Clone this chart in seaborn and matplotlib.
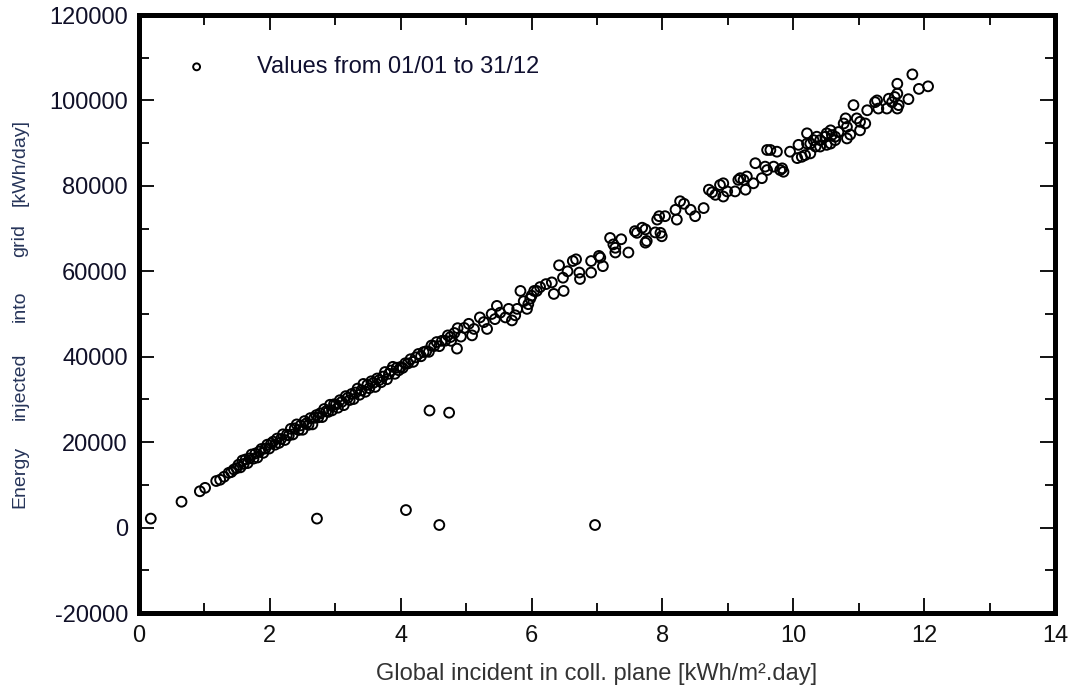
import matplotlib
matplotlib.use("Agg")
import matplotlib.pyplot as plt
import seaborn as sns
import pandas as pd
from matplotlib.ticker import MultipleLocator

# ---- data (kWh/m2.day , kWh/day) ----
irradiation = [
    # isolated low days
    0.18, 0.65, 2.72, 4.08, 4.59, 4.44, 4.74, 6.97,
    # 0.9 - 1.5
    0.93, 1.01, 1.18, 1.24, 1.30, 1.37, 1.41, 1.45, 1.49,
    # 1.5 - 2
    1.52, 1.55, 1.58, 1.60, 1.63, 1.66, 1.69, 1.72, 1.75, 1.78, 1.81, 1.84,
    1.87, 1.90, 1.93, 1.96, 1.99,
    # 2 - 3
    2.02, 2.05, 2.08, 2.11, 2.14, 2.17, 2.20, 2.23, 2.26, 2.29, 2.32, 2.35,
    2.38, 2.41, 2.44, 2.47, 2.50, 2.53, 2.56, 2.59, 2.62, 2.65, 2.68, 2.71,
    2.74, 2.77, 2.80, 2.83, 2.86, 2.89, 2.92, 2.95, 2.98,
    # 3 - 4
    3.01, 3.04, 3.07, 3.10, 3.13, 3.16, 3.19, 3.22, 3.25, 3.28, 3.31, 3.34,
    3.37, 3.40, 3.43, 3.46, 3.49, 3.52, 3.55, 3.58, 3.61, 3.64, 3.67, 3.70,
    3.73, 3.76, 3.79, 3.82, 3.85, 3.88, 3.91, 3.94, 3.97,
    # 4 - 5
    4.00, 4.03, 4.07, 4.11, 4.15, 4.19, 4.23, 4.27, 4.31, 4.35, 4.39, 4.43,
    4.47, 4.51, 4.55, 4.59, 4.63, 4.68, 4.72, 4.77, 4.82, 4.87, 4.92, 4.97,
    4.76, 4.86,
    # 5 - 6
    5.04, 5.09, 5.12, 5.21, 5.27, 5.32, 5.39, 5.44, 5.47, 5.52, 5.60, 5.65,
    5.70, 5.75, 5.78, 5.83, 5.88, 5.93, 5.95, 5.98, 6.00, 6.04, 6.08,
    # 6 - 7.5
    6.13, 6.22, 6.31, 6.34, 6.42, 6.48, 6.49, 6.55, 6.63, 6.68, 6.73, 6.74,
    6.91, 6.91, 7.03, 7.05, 7.09, 7.20, 7.25, 7.28, 7.28, 7.37, 7.48,
    # 7.5 - 9.6
    7.58, 7.61, 7.69, 7.74, 7.74, 7.76, 7.89, 7.92, 7.95, 7.97, 7.99, 8.04,
    8.20, 8.22, 8.27, 8.33, 8.43, 8.50, 8.63, 8.71, 8.76, 8.81, 8.88, 8.93,
    8.93, 8.99, 9.11, 9.16, 9.19, 9.24, 9.27, 9.29, 9.39, 9.42, 9.52, 9.57,
    # 9.6 - 12.1
    9.60, 9.60, 9.65, 9.70, 9.75, 9.80, 9.83, 9.85, 9.95, 10.06, 10.08, 10.13,
    10.18, 10.21, 10.21, 10.26, 10.26, 10.31, 10.34, 10.36, 10.41, 10.41,
    10.49, 10.51, 10.51, 10.57, 10.57, 10.59, 10.64, 10.64, 10.69, 10.77,
    10.80, 10.82, 10.82, 10.87, 10.92, 10.97, 11.02, 11.02, 11.10, 11.13,
    11.25, 11.28, 11.30, 11.43, 11.46, 11.51, 11.55, 11.59, 11.59, 11.59,
    11.61, 11.76, 11.82, 11.92, 12.06,
]

energy = [
    2100, 6050, 2100, 4100, 600, 27400, 26900, 600,
    8500, 9300, 10900, 11200, 11900, 12800, 13000, 13600, 13900,
    14700, 14100, 15700, 14900, 15950, 15100, 16200, 17100, 16150, 17350, 16400, 17800,
    18400, 17500, 18500, 19400, 18500,
    19690, 20120, 19400, 20830, 19820, 20750, 21830, 20510, 21740, 21580, 23110, 21790,
    23220, 24150, 22840, 23920, 22900, 24930, 24410, 24050, 25630, 24160, 25690, 26320,
    25810, 26740, 25870, 27750, 27230, 27070, 28750, 27430, 28860,
    28790, 28060, 29820, 29440, 28660, 30770, 30390, 29860, 31280, 30090, 31610, 32530,
    31090, 32110, 33630, 31790, 33410, 32630, 34250, 33860, 32930, 34900, 34510, 34030,
    35350, 36410, 34730, 36000, 36770, 37630, 36000, 37420, 36830,
    37600, 37380, 38460, 38430, 39410, 38790, 39860, 40640, 40110, 41090, 41270, 41140,
    42620, 42490, 43430, 42470, 43720, 43750, 44990, 43720, 45550, 46680, 44710, 46740,
    44600, 41900,
    47700, 45000, 46500, 49200, 48100, 46500, 50000, 48800, 51900, 50300, 49200, 51200,
    48500, 49700, 51200, 55400, 53000, 51200, 52300, 53600, 54300, 55400, 55400,
    56300, 57000, 57400, 54700, 61400, 58500, 55400, 60000, 62400, 62800, 59700, 58200,
    62400, 59700, 63600, 63200, 61200, 67800, 66300, 65500, 64400, 67500, 64400,
    69400, 69000, 70200, 69800, 66700, 67100, 69100, 72100, 72900, 69000, 68200, 72900,
    74400, 72100, 76400, 75800, 74400, 72900, 74800, 79100, 78500, 77900, 80200, 80600,
    77500, 78700, 78700, 81400, 81800, 81400, 79100, 82200, 80600, 85300, 81800, 84500,
    83700, 88400, 88400, 84500, 88000, 83700, 84100, 83300, 88000, 86500, 89600, 86800,
    87200, 89900, 92300, 87600, 89900, 90700, 89200, 91500, 90700, 89200,
    91500, 92300, 89600, 93000, 89900, 91900, 91500, 90700, 92600, 94600,
    95800, 93800, 91100, 92000, 98900, 95800, 93000, 95000, 94600, 97700,
    99600, 100000, 98100, 98100, 100400, 99600, 100800, 103900, 101600, 98100,
    98900, 100300, 106100, 102700, 103300,
]

x_ticks = [0, 2, 4, 6, 8, 10, 12, 14]
y_ticks = [-20000, 0, 20000, 40000, 60000, 80000, 100000, 120000]
legend_label = "Values from 01/01 to 31/12"
x_label = "Global incident in coll. plane [kWh/m\u00b2.day]"
y_label_words = ["Energy", "injected", "into", "grid", "[kWh/day]"]

sns.set_theme(style="white")
plt.rcParams['font.family'] = ['Liberation Sans', 'DejaVu Sans']

W, H = 1073, 697
fig = plt.figure(figsize=(W / 100, H / 100), dpi=100)
ax = fig.add_axes([139 / W, 1 - 613 / H, (1055 - 139) / W, (613 - 15) / H])

df = pd.DataFrame({"irr": irradiation, "energy": energy})
sns.scatterplot(data=df, x="irr", y="energy", ax=ax, marker="o", s=50,
                linewidth=1.4, label=legend_label)
for coll in ax.collections:
    coll.set_facecolor("none")
    coll.set_edgecolor("black")
    coll.set_linewidth(1.4)

ax.set_xlim(0, 14)
ax.set_ylim(-20000, 120000)
ax.set_xticks(x_ticks)
ax.set_yticks(y_ticks)
ax.xaxis.set_minor_locator(MultipleLocator(1))
ax.yaxis.set_minor_locator(MultipleLocator(10000))
ax.set_xticklabels([str(v) for v in x_ticks])
ax.set_yticklabels([str(v) for v in y_ticks])
ax.grid(False)

ax.tick_params(which="both", direction="in", top=True, right=True,
               left=True, bottom=True, color="black", width=1.3)
ax.tick_params(which="major", length=11)
ax.tick_params(which="minor", length=7)
ax.tick_params(axis="y", which="major", labelsize=17, pad=8, labelcolor="#101028")
ax.tick_params(axis="x", which="major", labelsize=17, pad=9, labelcolor="#101010")

for sp in ax.spines.values():
    sp.set_visible(True)
    sp.set_linewidth(3.6)
    sp.set_color("black")

ax.set_xlabel(x_label, fontsize=17, color="#333333", labelpad=11)
ax.set_ylabel("")

# y label words spread along the axis as in the reference
word_centres = [477, 386, 306, 241, 162]
for word, yc in zip(y_label_words, word_centres):
    fig.text(20 / W, 1 - yc / H, word, rotation=90, ha="center", va="center",
             fontsize=14, color="#27355a")

leg = ax.legend(loc="center left", bbox_to_anchor=(0.050, 0.913), frameon=False,
                borderpad=0, borderaxespad=0, handlelength=1.0, handletextpad=2.05,
                markerscale=0.7, fontsize=17, labelcolor="#101030")

fig.savefig("out.png", dpi=100)
